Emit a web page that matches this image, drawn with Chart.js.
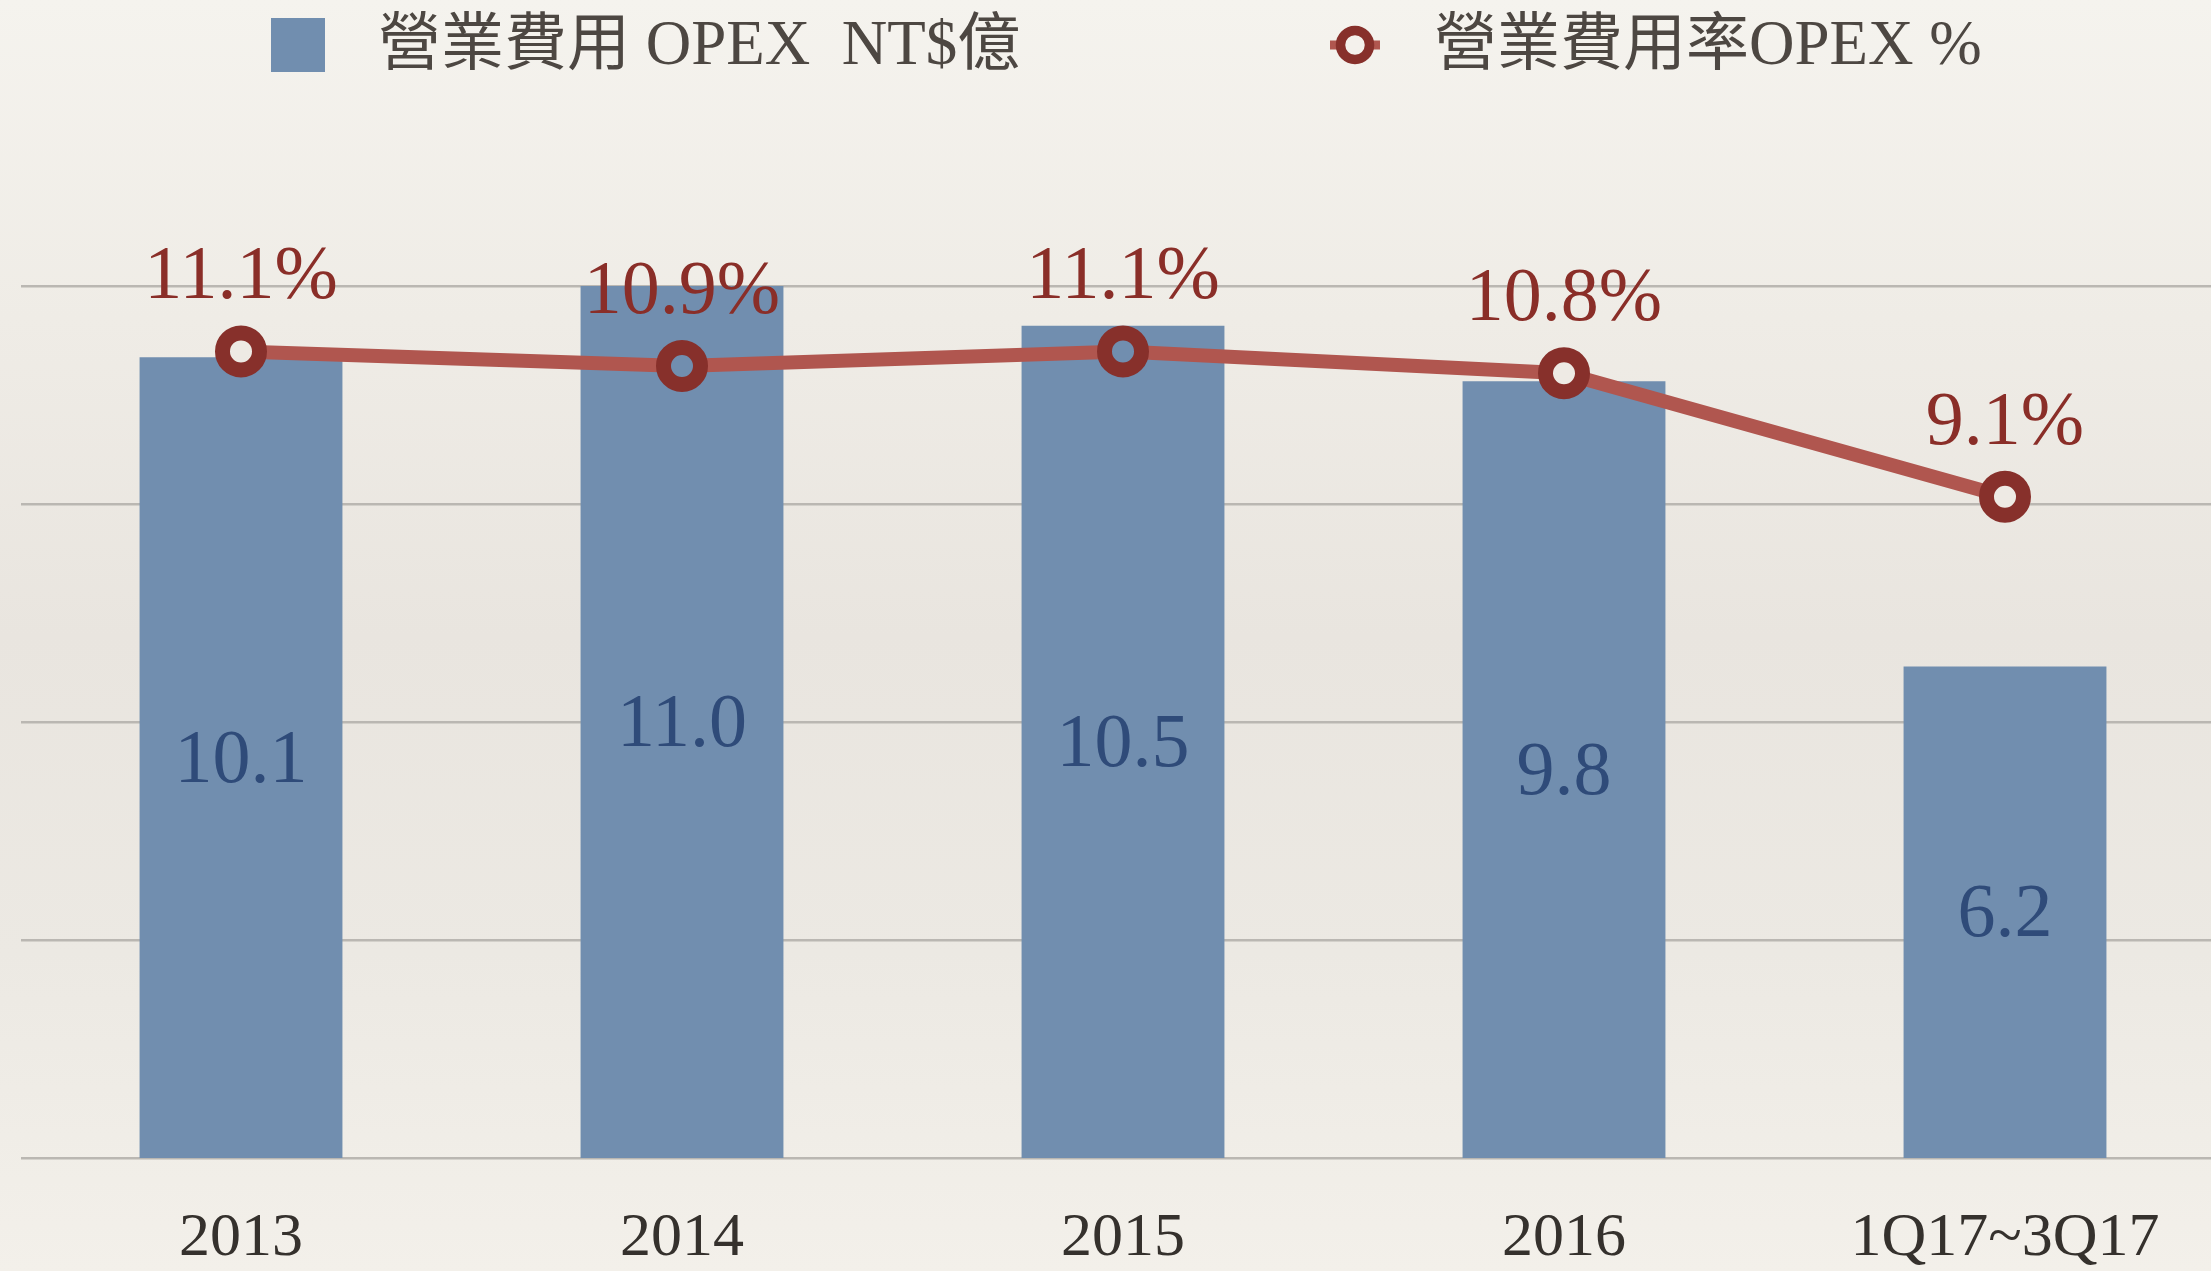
<!DOCTYPE html>
<html>
<head>
<meta charset="utf-8">
<script src="https://cdn.jsdelivr.net/npm/chart.js@4.4.1/dist/chart.umd.min.js"></script>
<style>
    html, body { margin: 0; padding: 0; overflow: hidden; }
    body {
        width: 2211px; height: 1271px;
        background: linear-gradient(to bottom, #F5F3EE 0%, #EFECE6 25%, #E9E5DF 50%, #ECE9E3 75%, #F3F0EA 100%);
    }
    #wrap { position: absolute; left: -13px; top: 0; }
</style>
</head>
<body>
<div id="wrap"><canvas id="opexChart" width="2272" height="1271"></canvas></div>
<script>
const categories = ["2013", "2014", "2015", "2016", "1Q17~3Q17"];
const opexValues = [10.1, 11.0, 10.5, 9.8, 6.2];
const opexRates = [11.1, 10.9, 11.1, 10.8, 9.1];
const rateTicks = [0, 3, 6, 9, 12];

const barLabel = "營業費用 OPEX  NT$億";
const lineLabel = "營業費用率OPEX %";

const serif = "'Liberation Serif', 'Noto Sans CJK TC', serif";
const barColor = "#718EAF";
const lineColor = "#B0564F";
const markerColor = "#87302B";
const bgColor = "#EEEAE4";

// canvas is shifted left by this much, legend is placed in page coords
const shiftX = 13;

// holes of the markers show what is behind them
const holeColors = [bgColor, barColor, barColor, bgColor, bgColor];

// value labels drawn on the bars and above the points
const valueLabels = {
    id: "valueLabels",
    afterDatasetsDraw(chart) {
        const ctx = chart.ctx;
        ctx.save();
        ctx.textAlign = "center";

        chart.getDatasetMeta(0).data.forEach((bar, i) => {
            ctx.font = "76px " + serif;
            ctx.fillStyle = "#2F4B79";
            ctx.textBaseline = "middle";
            ctx.fillText(opexValues[i].toFixed(1), bar.x, (bar.y + bar.base) / 2 + 4);
        });

        chart.getDatasetMeta(1).data.forEach((pt, i) => {
            ctx.font = "76px " + serif;
            ctx.fillStyle = "#8A2E28";
            ctx.textBaseline = "alphabetic";
            ctx.fillText(opexRates[i].toFixed(1) + "%", pt.x, pt.y - 53);
        });
        ctx.restore();
    }
};

// legend on top
const topLegend = {
    id: "topLegend",
    afterDraw(chart) {
        const ctx = chart.ctx;
        ctx.save();
        ctx.translate(shiftX, 0);
        ctx.fillStyle = barColor;
        ctx.fillRect(271, 18, 54, 54);

        ctx.strokeStyle = lineColor;
        ctx.lineWidth = 9;
        ctx.beginPath();
        ctx.moveTo(1330, 45);
        ctx.lineTo(1380, 45);
        ctx.stroke();
        ctx.beginPath();
        ctx.arc(1355, 45, 14.5, 0, Math.PI * 2);
        ctx.fillStyle = "#F4F1EC";
        ctx.fill();
        ctx.lineWidth = 9.5;
        ctx.strokeStyle = markerColor;
        ctx.stroke();

        ctx.font = "63px " + serif;
        ctx.fillStyle = "#4D4742";
        ctx.textBaseline = "middle";
        ctx.textAlign = "left";
        ctx.fillText(barLabel, 378, 47);
        ctx.fillText(lineLabel, 1434, 47);
        ctx.restore();
    }
};

new Chart(document.getElementById("opexChart"), {
    data: {
        labels: categories,
        datasets: [{
            type: "bar",
            label: barLabel,
            data: opexValues,
            backgroundColor: barColor,
            barPercentage: 0.46,
            categoryPercentage: 1,
            yAxisID: "y",
            order: 2
        }, {
            type: "line",
            label: lineLabel,
            data: opexRates,
            borderColor: lineColor,
            borderWidth: 14,
            pointRadius: 18.5,
            pointHoverRadius: 18.5,
            pointBorderWidth: 15,
            pointHoverBorderWidth: 15,
            pointBorderColor: markerColor,
            pointBackgroundColor: holeColors,
            tension: 0,
            yAxisID: "y1",
            order: 1
        }]
    },
    options: {
        responsive: false,
        animation: false,
        layout: { padding: { left: 7, top: 286, right: 6, bottom: 0 } },
        plugins: {
            legend: { display: false },
            tooltip: { enabled: false }
        },
        events: [],
        scales: {
            x: {
                grid: { display: false },
                border: { display: false },
                ticks: {
                    font: { family: serif, size: 62 },
                    color: "#35312D",
                    padding: 36,
                    maxRotation: 0
                },
                afterFit(scale) { scale.height = 113; }
            },
            y: {
                display: false,
                min: 0,
                max: 11
            },
            y1: {
                position: "left",
                min: 0,
                max: 12,
                afterBuildTicks(scale) { scale.ticks = rateTicks.map(v => ({ value: v })); },
                ticks: { display: false },
                grid: { color: "#BAB7B2", lineWidth: 2.5, drawTicks: false },
                border: { display: false },
                afterFit(scale) { scale.width = 0; }
            }
        }
    },
    plugins: [valueLabels, topLegend]
});
</script>
</body>
</html>
